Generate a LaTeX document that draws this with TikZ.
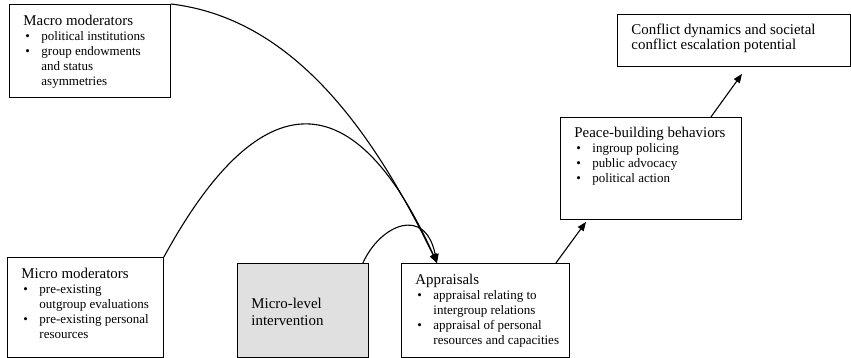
\documentclass[tikz,border=0pt]{standalone}
\usepackage{fontspec}
\setmainfont{Liberation Serif}
\usetikzlibrary{arrows.meta}

\definecolor{ivfill}{gray}{0.88}

\newcommand{\boxtext}[3]{\parbox[c][#2][t]{#1}{\raggedright\leftskip=14pt\parindent=0pt #3}}
\newcommand{\hd}[2]{{\fontsize{14.9}{15}\selectfont\rule{0pt}{#1}#2\par}\fontsize{13}{15}\selectfont}
\newcommand{\bitem}[1]{\par\hangindent=18pt\hangafter=1\noindent\hspace*{2pt}\makebox[16pt][l]{\textbullet}#1}

\begin{document}
\begin{tikzpicture}[x=1pt,y=-1pt]
        \tikzstyle{every node}=[inner sep=0pt, anchor=north west]
        \tikzstyle{box}=[draw, line width=0.9pt]
        \tikzstyle{link}=[line width=1.1pt, -{Triangle[length=9pt,width=7pt]}]

        \useasboundingbox (0,0) rectangle (851,358);

        \node[box] (macro) at (9,4) {\boxtext{161pt}{93pt}{\hd{21.5pt}{Macro moderators}%
            \bitem{political institutions}%
            \bitem{group endowments\newline and status\newline asymmetries}}};
        \node[box] (micro) at (7,257) {\boxtext{156pt}{100pt}{\hd{21pt}{Micro moderators}%
            \bitem{pre-existing\newline outgroup evaluations}%
            \bitem{pre-existing personal\newline resources}}};
        \node[box, fill=ivfill] (inter) at (237,263) {\boxtext{131pt}{94pt}{%
            {\fontsize{14.9}{17}\selectfont\rule{0pt}{45pt}Micro-level\newline intervention\par}}};
        \node[box] (appr) at (401,263) {\boxtext{168pt}{94pt}{\hd{21pt}{Appraisals}%
            \bitem{appraisal relating to\newline intergroup relations}%
            \bitem{appraisal of personal\newline resources and capacities}}};
        \node[box] (peace) at (560,117) {\boxtext{181pt}{102pt}{\hd{20.5pt}{Peace-building behaviors}%
            \bitem{ingroup policing}%
            \bitem{public advocacy}%
            \bitem{political action}}};
        \node[box] (conf) at (617,14) {\boxtext{233pt}{52pt}{%
            {\fontsize{14.9}{15}\selectfont\rule{0pt}{20pt}Conflict dynamics and societal\newline conflict escalation potential\par}}};

        \draw[link] (macro.north east) .. controls (290,18) and (370,125) .. ([xshift=36pt]appr.north west);
        \draw[link] (micro.north east) .. controls (255,90) and (350,70) .. ([xshift=36pt]appr.north west);
        \draw[link] ([xshift=-6pt]inter.north east) .. controls (380,225) and (425,205) .. ([xshift=36pt]appr.north west);
        \draw[link] ([xshift=-14pt]appr.north east) -- ([xshift=26pt,yshift=-2pt]peace.south west);
        \draw[link] ([xshift=-31pt]peace.north east) -- ([xshift=125pt,yshift=-7pt]conf.south west);
\end{tikzpicture}
\end{document}
